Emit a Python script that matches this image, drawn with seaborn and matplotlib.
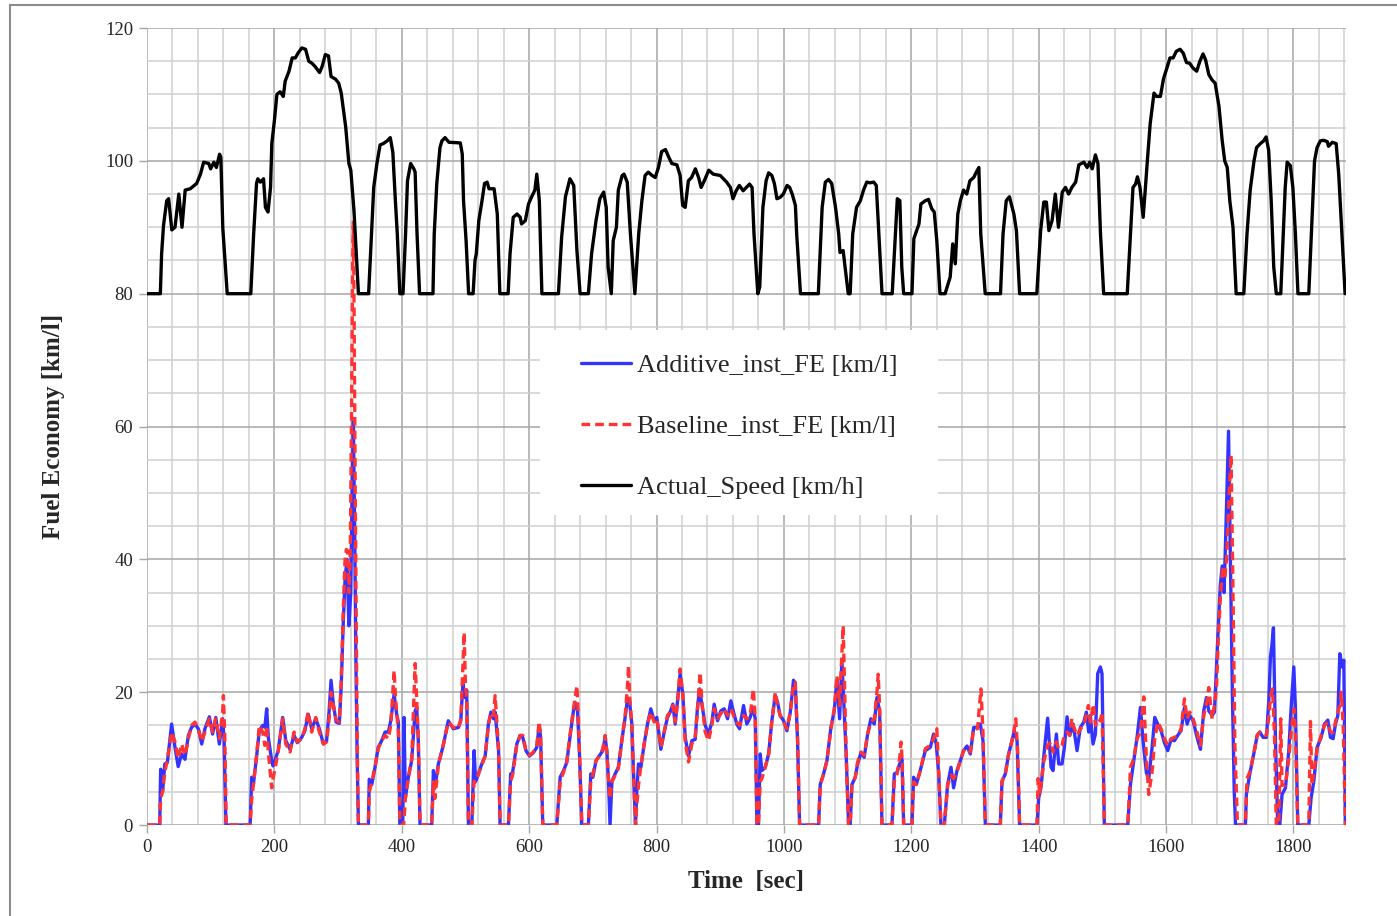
import numpy as np
import pandas as pd
import matplotlib
matplotlib.use("Agg")
import matplotlib.pyplot as plt
from matplotlib.patches import Rectangle
from matplotlib.lines import Line2D
from matplotlib.ticker import MultipleLocator
import seaborn as sns

# time [s] and instantaneous fuel economy [km/l], additive fuel
t_add = [0, 20, 21.5, 24.6, 28, 32, 38.7, 44, 49, 54.4, 59.7, 65, 70, 75.4, 80.6, 86, 91, 98, 103, 108,
         113.6, 118.8, 121, 124, 162, 164.4, 167, 172, 176.4, 181.6, 185, 188, 190.5, 195.8, 198, 206, 213,
         218, 224.6, 231, 236, 243, 248, 253, 258.6, 265, 270.6, 277, 282, 286, 289, 292.6, 297, 302, 305,
         308, 311, 314, 317, 320, 322, 324, 326, 328, 330, 332, 347.6, 349, 353, 358, 363, 368.5, 373.8,
         379, 382.7, 388, 392, 394.7, 397, 401.5, 403.6, 405.7, 410.4, 415.6, 421, 423.5, 426, 428.7, 447,
         449.7, 452, 457.5, 465, 473, 481, 489, 492.7, 496, 499.5, 502, 504.7, 510, 513.6, 516, 520.4,
         525.6, 531, 536, 540, 544, 546.6, 552, 554.4, 567.5, 571, 574, 580.6, 585.8, 590, 595, 600.5,
         606.8, 612, 615.7, 618, 621.4, 643.4, 648.7, 654, 659, 665.4, 669.6, 672, 676, 679, 682.7, 693,
         696.8, 700, 705, 710, 715.7, 719.3, 722, 724.6, 727, 730, 735, 740, 745.5, 750.7, 754.4, 757.5,
         761.2, 764.9, 767, 769, 771.7, 775.4, 780.6, 785.8, 791, 796.3, 800.5, 806.8, 812, 817.2, 821.4,
         825.6, 829.3, 833, 837, 841.3, 845, 850.2, 855.5, 860.7, 864.3, 867.5, 871.2, 876.4, 881.6,
         886.9, 890.5, 895.8, 901, 906.2, 911.5, 916.7, 920.9, 926, 930.3, 936.6, 941.8, 947, 951.3, 955,
         957.6, 960, 962.8, 965.4, 970.7, 976, 981, 986.4, 990, 994, 999.5, 1004.7, 1010, 1015, 1017.8,
         1021.4, 1024.6, 1054.4, 1057, 1062.3, 1067.5, 1073.8, 1079, 1083.2, 1087.4, 1091, 1093.7, 1097.9,
         1101.5, 1104, 1106.8, 1112, 1115.7, 1121, 1126, 1131.4, 1136.6, 1141.8, 1146, 1150.2, 1153.9,
         1169.6, 1173.3, 1177.5, 1181.6, 1185.3, 1188, 1201, 1203.6, 1207.8, 1214, 1222, 1229.8, 1235,
         1239.2, 1243, 1246.5, 1251.8, 1257, 1262.3, 1266.4, 1271.7, 1277, 1282, 1287.4, 1292.6, 1297.9,
         1304, 1308.3, 1312.5, 1316.2, 1339.7, 1342.4, 1347.6, 1352.8, 1358, 1361.7, 1366, 1370, 1397.3,
         1400, 1404, 1407.8, 1414, 1419.4, 1422.5, 1427.7, 1431.4, 1436.6, 1440.3, 1444.5, 1448.7, 1454,
         1460.2, 1465.4, 1470.7, 1474.8, 1478.5, 1481, 1485.3, 1489, 1492.6, 1496.8, 1499.4, 1501, 1503,
         1539.8, 1544, 1549.2, 1554.4, 1559.7, 1563.8, 1569, 1572.7, 1578, 1582.2, 1586.9, 1592.1, 1597.3,
         1602.6, 1607.8, 1613, 1618.3, 1623.5, 1628.8, 1633, 1637.1, 1642.4, 1648.6, 1653.9, 1659.1,
         1663.3, 1667, 1672.2, 1675.9, 1679, 1682, 1685, 1688, 1691, 1694, 1698, 1701, 1704, 1707, 1709,
         1724.5, 1726, 1731.4, 1737.6, 1743, 1747, 1752.3, 1757.5, 1761.2, 1763.8, 1766, 1768.5, 1770,
         1771.7, 1775.3, 1778.5, 1782, 1787.4, 1792.6, 1796.3, 1800.5, 1803, 1806.7, 1824, 1827.7, 1831.9,
         1837.1, 1843.4, 1848.6, 1853.9, 1858, 1862.2, 1865.9, 1869.6, 1872.7, 1876.4, 1879, 1881.6]
fe_add = [0, 0, 8.4, 5.1, 9.2, 9.4, 15.2, 11.7, 8.8, 10.7, 9.9, 13.5, 14.7, 15.2, 14.5, 12.2, 14.5, 16.3, 13.7, 16.2,
          12.2, 16, 13, 0, 0, 7.2, 6.1, 10.2, 14.2, 15, 14.7, 17.5, 13.2, 9.7, 8.9, 11.2, 16.2,
          12.7, 11.4, 13.5, 12.4, 13.2, 14.2, 16.7, 14.5, 16, 14.5, 12.2, 12.7, 17.2, 21.8, 18.2, 15.5, 15.3, 21,
          30, 37, 40, 30, 35, 50, 61, 45, 25, 10, 0, 0, 6.9, 6.1, 8.7, 11.7, 12.7, 14,
          14, 15.7, 19.7, 16.7, 15.5, 0, 0, 16.2, 4.1, 7.2, 9.7, 17.2, 17.7, 12.7, 0, 0,
          8.2, 5.6, 9.2, 11.9, 15.7, 14.5, 14.7, 15.7, 21.3, 19.2, 20.3, 0, 0, 11.2, 6.6, 7.7,
          9.2, 10.4, 15.2, 17, 16, 17, 11.2, 0, 0, 7.7, 7.9, 12.2, 13.5, 13.2, 11.2, 10.4,
          10.9, 11.7, 15, 13.2, 0, 0, 7.2, 8.2, 9.4, 14.2, 17.2, 18.5, 17.2, 10.7, 0, 0,
          7.7, 7.2, 9.7, 10.4, 11.2, 13.2, 11.2, 6.6, 0, 6.6, 7.7, 8.7, 12.7, 16.2, 19, 18.7,
          15.2, 5.1, 0, 5.1, 9.2, 8.7, 12.2, 15.2, 17.5, 15.7, 16.2, 11.4, 14, 16.2, 17,
          18.2, 15.2, 18.7, 22.8, 19.7, 13.2, 10.4, 12.7, 12.9, 17.7, 20.5, 18.2, 15, 13.7,
          15.5, 18.2, 15.7, 17.2, 17.5, 16, 18.7, 17, 15.2, 14.5, 18, 15.2, 16.2, 17.7, 16,
          0, 0, 10.7, 8.2, 8.7, 10.7, 15.7, 19.5, 18.5, 16.5, 15.7, 14.2, 17, 21.8, 21.3,
          12.7, 0, 0, 6.1, 7.7, 9.7, 14.7, 17.2, 21.8, 16, 24.8, 19.2, 10.2,
          0, 0, 6.1, 7.2, 9.2, 10.9, 10.2, 13.7, 16, 15.2, 19.2, 17.2, 0,
          0, 7.7, 7.9, 9.2, 9.9, 0, 0, 7.2, 6.1, 8.2, 11.2, 11.7, 13.7,
          12.2, 7.7, 0, 0, 6.1, 8.7, 5.6, 8.2, 9.7, 11.2, 11.9, 10.7, 14.7,
          14.7, 15.2, 12.7, 0, 0, 6.6, 7.7, 10.7, 12.7, 14.2, 12.7, 0, 0,
          4.1, 6, 10.2, 16.1, 8.7, 8.2, 13.7, 9.2, 9.2, 11.7, 16.3, 13.5, 15.2,
          11.2, 14.7, 15.5, 17, 14, 16.5, 12.2, 13.7, 22.8, 23.8, 22.8, 12.7, 0,
          0, 6.1, 9.7, 13.2, 17.7, 12.7, 7.9, 6.9, 11.7, 16.2, 15.2, 14.2, 12.4,
          11.2, 12.9, 12.7, 13.5, 14.2, 17.7, 15.2, 16.5, 15.7, 13.2, 11.4, 17.2,
          19.2, 17.2, 16.5, 17, 23.8, 30, 36, 39, 35, 45, 59.3, 40, 20, 5, 0,
          0, 4.6, 7.7, 10.7, 13.5, 14, 13.2, 13.2, 18.7, 25.3, 27, 29.7, 22,
          12.7, 0, 0, 4.6, 5.6, 11.2, 17.7, 23.8, 17.7, 0, 0, 4.1, 6.6,
          11.7, 13.2, 15.2, 15.8, 13.2, 13, 15.2, 16.5, 25.8, 23.8, 24.8, 0]

# time [s] and instantaneous fuel economy [km/l], baseline fuel
t_base = [0, 20, 21.5, 24.6, 28, 32, 38.7, 44, 49, 54.4, 59.7, 65, 70, 75.4, 80.6, 86, 91, 98, 103, 108,
          113.6, 118.8, 120, 122, 124.5, 162, 164.5, 167, 172, 176.4, 181.6, 185, 188, 190.5, 195.8, 198,
          206, 213, 218, 224.6, 231, 236, 243, 248, 253, 258.6, 265, 270.6, 277, 282, 286, 289, 292.6, 297,
          302, 305, 308, 311, 313, 315, 317, 319, 321, 323, 324, 325, 327, 329, 331, 332, 347.6, 349, 353,
          358, 363, 368.5, 373.8, 379, 382.7, 386, 388, 390, 392, 394.7, 397, 403, 405.7, 410.4, 415.6, 419,
          421, 423.5, 426, 428.7, 447, 449.7, 452, 457.5, 465, 473, 481, 489, 492.7, 496, 498, 500, 502,
          504.7, 510, 513.6, 516, 520.4, 525.6, 531, 536, 540, 544, 546.6, 552, 554.4, 567.5, 571, 574,
          580.6, 585.8, 590, 595, 600.5, 606.8, 612, 615.7, 618, 621.4, 643.4, 648.7, 654, 659, 665.4,
          669.6, 675, 677, 679, 682.7, 693, 696.8, 700, 705, 710, 715.7, 719.3, 722, 724.6, 727, 730, 735,
          740, 745.5, 750.7, 754.4, 756, 758, 761.2, 764.9, 767, 769, 771.7, 775.4, 780.6, 785.8, 791,
          796.3, 800.5, 806.8, 812, 817.2, 821.4, 825.6, 829.3, 833, 837, 841.3, 845, 850.2, 855.5, 860.7,
          864.3, 868.5, 871.2, 876.4, 881.6, 886.9, 890.5, 895.8, 901, 906.2, 911.5, 916.7, 920.9, 926,
          930.3, 936.6, 941.8, 947, 952, 955, 957.6, 960, 962.8, 965.4, 970.7, 976, 981, 986.4, 990, 994,
          999.5, 1004.7, 1010, 1015, 1017.8, 1021.4, 1024.6, 1054.4, 1057, 1062.3, 1067.5, 1073.8, 1079,
          1083.2, 1087.4, 1091, 1093, 1095, 1097.9, 1101.5, 1104, 1106.8, 1112, 1115.7, 1121, 1126, 1131.4,
          1136.6, 1141.8, 1146, 1148, 1150.2, 1153.9, 1169.6, 1173.3, 1177.5, 1181.6, 1184, 1186, 1188,
          1201, 1203.6, 1207.8, 1214, 1222, 1229.8, 1235, 1240, 1243, 1246.5, 1251.8, 1257, 1262.3, 1266.4,
          1271.7, 1277, 1282, 1287.4, 1292.6, 1297.9, 1304, 1307, 1309.4, 1312.5, 1316.2, 1339.7, 1342.4,
          1347.6, 1352.8, 1358, 1361.7, 1364, 1367, 1370, 1397.3, 1399, 1402, 1407.8, 1414, 1419.4, 1422.5,
          1427.7, 1431.4, 1436.6, 1440.3, 1444.5, 1448.7, 1452, 1454, 1460.2, 1465.4, 1470.7, 1474.8, 1478,
          1481, 1486, 1489, 1492.6, 1497, 1499.4, 1501, 1503, 1539.8, 1542, 1544, 1549.2, 1554.4, 1559.7,
          1565, 1569, 1572.7, 1578, 1582.2, 1586.9, 1592.1, 1597.3, 1602.6, 1607.8, 1613, 1618.3, 1623.5,
          1628.8, 1633, 1637.1, 1642.4, 1648.6, 1653.9, 1659.1, 1664, 1667, 1672.2, 1675.9, 1679, 1682,
          1685, 1689, 1692, 1695, 1699, 1702, 1705, 1708, 1712, 1724.5, 1727, 1731.4, 1737.6, 1743, 1747,
          1752.3, 1757.5, 1761, 1764, 1767, 1770, 1773, 1777, 1780, 1782, 1787.4, 1792.6, 1796.3, 1800.5,
          1803, 1806.7, 1824, 1826.6, 1829, 1831.9, 1837.1, 1843.4, 1848.6, 1853.9, 1858, 1862.2, 1865.9,
          1869.6, 1872.7, 1875, 1878, 1881.6]
fe_base = [0, 0, 4, 5, 8, 9.8, 14, 12.5, 10, 12.2, 10.5, 13, 15, 15.5, 14.5, 12.6, 14, 16, 14, 16,
           13, 17, 19.5, 14, 0, 0, 4, 6, 10.5, 15, 14, 12, 15, 11, 5.6, 7,
           11, 16, 12.2, 11, 14, 12.5, 13, 14.5, 17, 14, 16.2, 14, 12.2, 12.5, 16, 20, 18, 15.8,
           15.5, 22, 32, 40, 41.5, 41, 35, 40, 60, 85, 91, 80, 50, 25, 5, 0, 0, 5, 6.5,
           8.7, 11.5, 12.7, 13.5, 13, 15, 20, 23.3, 19.5, 17, 14, 0, 0, 4, 7.2, 10, 19,
           24.3, 19, 13, 0, 0, 6.5, 4, 9, 12, 15.5, 14.7, 14.5, 16, 24, 29, 21, 19,
           0, 0, 6.6, 6.5, 7.7, 9, 10.4, 15, 17, 16.5, 19.5, 11.5, 0, 0, 6.6, 7.5,
           12, 13.5, 13.5, 11.2, 10.5, 11, 12, 15.6, 13.5, 0, 0, 6.5, 8, 9.5, 14.5,
           17.5, 21, 17, 11, 0, 0, 6.6, 7.7, 9.7, 10.4, 11.5, 13.5, 11, 7, 4, 6.5, 7.5,
           8.5, 12.7, 16.5, 21, 24, 19, 15, 5, 0, 3, 6, 9, 12.2, 15.2, 17,
           15.5, 16, 11.7, 14, 16.5, 17, 18, 15.5, 18.5, 23.5, 19.5, 12.5, 9.5, 12.2, 13.3,
           17.5, 23, 18.5, 14, 12.7, 15, 17.5, 16, 16.8, 17.5, 16.5, 17.5, 16.5, 15.5,
           15, 16.5, 16, 16.5, 20.5, 16, 0, 0, 6.6, 7, 8.7, 10.7, 15.5, 20, 18, 16.5,
           15.5, 14.5, 17, 21.3, 21.5, 13, 0, 0, 6, 7.7, 9.7, 14.5, 17.5,
           22.5, 18, 26, 30, 22, 10, 0, 0, 6, 7.2, 9.5, 11, 10.5, 13.7,
           15.5, 16, 20, 22.7, 18, 0, 0, 6.6, 7.7, 10, 12.5, 9, 0,
           0, 6.5, 6.1, 8.2, 11.5, 12, 13, 14.5, 8, 0, 0, 6, 7.5, 7,
           8, 9.7, 11.2, 11.5, 11, 14.5, 14.5, 18, 20.5, 14, 0, 0, 6.6,
           7.7, 10.7, 12.7, 14.5, 16, 11, 0, 0, 7, 4.6, 9.5, 12, 12.5, 11,
           12.5, 11.5, 12, 13.5, 14, 13.5, 16, 15, 13.5, 14.5, 15, 16.5, 18,
           15.5, 18.2, 15, 16, 15.7, 17, 10, 0, 0, 4, 8.7, 10, 13, 14,
           19.3, 10, 4.6, 8, 13, 15.5, 14.5, 13, 12, 13, 13.2, 13.5, 14.5,
           19, 16, 17, 16, 14, 12, 16.5, 18.5, 20.7, 16, 18, 20.5, 28,
           34, 39, 37, 40, 50, 55.7, 35, 12, 0, 0, 7, 8, 10.7, 13.5, 14,
           13.5, 13.5, 16, 19.5, 20.5, 14, 0, 0, 16, 6, 6, 10, 14, 17.5,
           14, 0, 0, 15.6, 6, 8, 11.5, 13.5, 15, 15.5, 14, 14, 15.5,
           17, 18, 20, 15, 0]

# time [s] and vehicle speed trace, drawn offset on the same axis (speed 0 sits at 80)
t_speed = [0, 21, 23, 26, 31, 34, 39, 44, 50, 55, 60, 68, 78, 84, 89, 97, 100, 105, 109, 114, 116, 119, 126,
           163, 167.5, 172, 174, 178, 183, 186, 190, 194, 196, 200, 204, 209, 214, 217, 223, 228, 233, 237,
           243, 249, 254, 259, 264, 271, 275, 280, 285, 289, 296, 301, 305, 312, 317, 320, 325, 327, 332,
           348, 351, 356, 361, 366, 371, 377, 382, 386, 390, 393, 397, 402, 406, 409, 414, 419, 421, 424,
           428, 449, 451, 455, 460, 463, 468, 474, 492, 495, 497, 501, 505, 512, 515, 517, 521, 526, 530,
           534, 537, 545, 550, 554, 567, 570, 575, 581, 586, 588, 594, 599, 604, 609, 612, 616, 620, 646,
           651, 657, 664, 670, 675, 680, 693, 698, 705, 711, 717, 721, 724, 729, 732, 737, 740, 746, 749,
           754, 759, 766, 772, 777, 782, 787, 793, 798, 803, 808, 814, 819, 824, 832, 837, 841, 845, 850,
           855, 861, 866, 870, 875, 882, 889, 900, 910, 916, 920, 925, 930, 936, 941, 946, 950, 953, 959,
           962, 967, 972, 976, 981, 985, 989, 994, 999, 1005, 1009, 1013, 1018, 1020, 1026, 1054, 1060,
           1065, 1070, 1075, 1081, 1086, 1088, 1093, 1096, 1101, 1104, 1108, 1114, 1120, 1125, 1130, 1135,
           1141, 1145, 1149, 1154, 1170, 1175, 1178, 1182, 1185, 1188, 1201, 1204, 1212, 1215, 1222, 1227,
           1232, 1236, 1240, 1245, 1253, 1261, 1265, 1269, 1273, 1277, 1282, 1287, 1292, 1298, 1302, 1306,
           1309, 1316, 1340, 1344, 1349, 1354, 1361, 1365, 1370, 1397, 1403, 1408, 1412, 1416, 1421, 1426,
           1431, 1437, 1442, 1447, 1452, 1458, 1463, 1471, 1476, 1480, 1484, 1489, 1493, 1497, 1502, 1539,
           1544, 1548, 1552, 1555, 1559, 1564, 1567, 1571, 1575, 1581, 1585, 1591, 1596, 1602, 1606, 1611,
           1616, 1622, 1627, 1632, 1637, 1642, 1648, 1653, 1658, 1662, 1667, 1672, 1677, 1683, 1688, 1692,
           1696, 1700, 1705, 1710, 1722, 1727, 1732, 1738, 1742, 1748, 1753, 1757, 1761, 1765, 1769, 1773,
           1780, 1784, 1787, 1790, 1795, 1799, 1803, 1807, 1824, 1828, 1833, 1837, 1842, 1847, 1853, 1855,
           1861, 1867, 1871, 1876, 1881]
speed_trace = [80, 80, 86, 90.3, 94, 94.3, 89.6, 90, 95, 90, 95.6, 95.8, 96.6, 98, 99.8, 99.6, 98.8, 99.8, 99, 101, 100.5, 90, 80,
               80, 89, 96.6, 97.3, 96.8, 97.3, 93, 92.3, 96, 102.6, 106, 110, 110.4, 109.7, 112, 113.5, 115.5, 115.5, 116.2,
               117, 116.8, 115, 114.7, 114.2, 113.3, 114.2, 116, 115.8, 112.7, 112.3, 111.7, 110.2, 105.1, 99.6, 98.6, 92.5, 89, 80,
               80, 86, 96, 99.6, 102.4, 102.6, 103, 103.5, 101.3, 94, 89, 80, 80, 89, 97, 99.6, 98.8, 98.3, 89,
               80, 80, 89, 96.6, 102, 103, 103.5, 102.8, 102.7, 101, 94, 88, 80, 80, 85, 86, 91, 94, 96.6,
               96.8, 95.8, 95.8, 92, 80, 80, 86, 91.5, 92, 91.5, 90.5, 91, 93.5, 94.6, 95.6, 98, 94, 80, 80,
               88.5, 94.6, 97.3, 96.3, 86.5, 80, 80, 86, 91, 94.3, 95.3, 93, 84, 80, 88, 90, 95.6, 97.8, 98,
               96.8, 89, 80, 89, 94, 97.8, 98.3, 97.8, 97.5, 99, 101.4, 101.7, 100.6, 99.6, 99.4, 97.8, 93.3, 93, 97,
               97.5, 98.8, 97.5, 96, 97, 98.6, 98, 97.8, 96.8, 96, 94.3, 95.5, 96.3, 95.5, 96, 96.5, 96, 89, 80,
               81, 93, 97, 98.2, 97.8, 96.6, 94.3, 94.5, 95, 96.3, 96, 95, 93.3, 89, 80, 80, 93,
               96.8, 97.2, 96.6, 93, 89, 86.2, 86.5, 84, 80, 80, 89, 93, 94, 95.6, 96.8, 96.7,
               96.8, 96.3, 89, 80, 80, 89, 94.3, 94, 84, 80, 80, 88.3, 90.5, 93.5, 94, 94.2,
               92.8, 92.3, 88, 80, 80, 82.5, 87.5, 84.5, 92, 94, 95.6, 95, 97, 97.5, 98.3, 99,
               89, 80, 80, 89, 94, 94.6, 92, 89.5, 80, 80, 89.5, 93.8, 93.8, 89.5, 91, 95,
               90, 95.3, 96, 95, 96, 96.8, 99.4, 99.8, 99, 99.8, 98.8, 100.9, 99.6, 89, 80, 80,
               89, 96, 96.5, 97.6, 96, 91.5, 95.3, 100.6, 105.6, 110.2, 109.7, 109.7, 112.4, 114.2, 115.5, 115.5,
               116.5, 116.8, 116.2, 114.8, 114.7, 114, 113.5, 115, 116.1, 115.2, 113, 112.2, 111.7, 108.2, 103.1, 100,
               99, 94, 90, 80, 80, 89, 95.6, 100, 102, 102.6, 103, 103.6, 101.6, 94, 84, 80,
               80, 89, 96, 99.8, 99.3, 96, 89, 80, 80, 89, 100, 102, 103, 103.1, 102.9, 102.2,
               102.8, 102.6, 98, 89, 80]

labels = ["Additive_inst_FE [km/l]", "Baseline_inst_FE [km/l]", "Actual_Speed [km/h]"]

sns.set_style("white")
plt.rcParams["font.family"] = ["Liberation Serif", "DejaVu Serif"]

fig = plt.figure(figsize=(13.97, 9.16), dpi=100)
ax = fig.add_axes([0.1052, 0.0993, 0.8581, 0.8701])

df_add = pd.DataFrame({"t": t_add, "v": fe_add})
df_base = pd.DataFrame({"t": t_base, "v": fe_base})
df_spd = pd.DataFrame({"t": t_speed, "v": speed_trace})

lw = 2.4
dash = (0, (2.6, 1.5))
sns.lineplot(data=df_add, x="t", y="v", ax=ax, color="#3333ff", linewidth=lw,
             estimator=None, sort=False, zorder=3)
sns.lineplot(data=df_base, x="t", y="v", ax=ax, color="#ff3333", linewidth=lw,
             estimator=None, sort=False, zorder=4, linestyle=dash)
sns.lineplot(data=df_spd, x="t", y="v", ax=ax, color="black", linewidth=lw,
             estimator=None, sort=False, zorder=5)

ax.set_xlim(0, 1882)
ax.set_ylim(0, 120)
ax.xaxis.set_major_locator(MultipleLocator(200))
ax.xaxis.set_minor_locator(MultipleLocator(40))
ax.yaxis.set_major_locator(MultipleLocator(20))
ax.yaxis.set_minor_locator(MultipleLocator(5))
ax.set_axisbelow(True)
ax.grid(which="major", color="#a6a6a6", linewidth=1.1)
ax.grid(which="minor", color="#cfcfcf", linewidth=1.1)
for s in ax.spines.values():
    s.set_visible(False)
ax.tick_params(which="major", axis="both", length=6, width=1, color="#a6a6a6",
               labelsize=13.5, pad=4, left=True, bottom=True)
ax.tick_params(which="minor", length=0)

ax.set_xlabel("Time  [sec]", fontsize=18, fontweight="bold", labelpad=10)
ax.set_ylabel("Fuel Economy [km/l]", fontsize=18, fontweight="bold", labelpad=29)

# white box behind the legend
ax.add_patch(Rectangle((0.328, 0.389), 0.332, 0.232, transform=ax.transAxes,
                       facecolor="white", edgecolor="none", zorder=1))
handles = [Line2D([], [], color="#3333ff", linewidth=lw),
           Line2D([], [], color="#ff3333", linewidth=lw, linestyle=dash),
           Line2D([], [], color="black", linewidth=lw)]
leg = ax.legend(handles, labels, loc="center", bbox_to_anchor=(0.494, 0.5),
                frameon=False, fontsize=19, handlelength=1.9, handletextpad=0.2,
                labelspacing=1.43)
leg.set_zorder(6)

fig.patches.append(Rectangle((0.0072, -0.01), 1.0, 1.0045, transform=fig.transFigure,
                             facecolor="none", edgecolor="#8c8c8c", linewidth=1.5))

fig.savefig("out.png", dpi=100)
